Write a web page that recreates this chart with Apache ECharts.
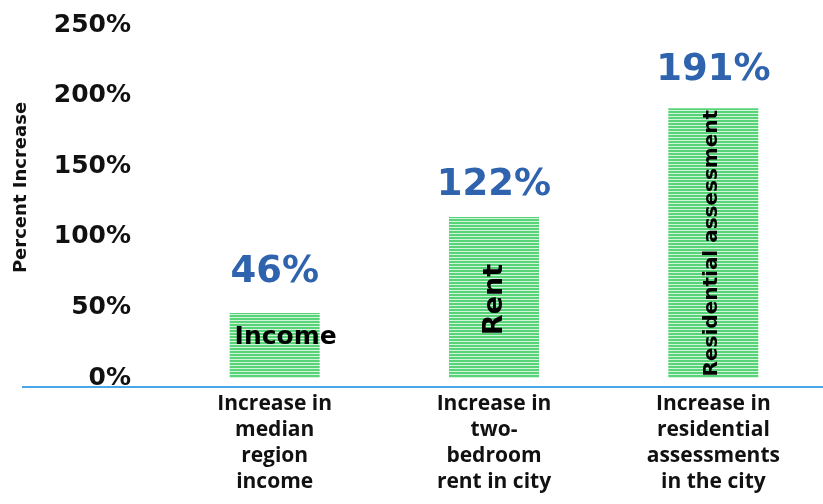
<!DOCTYPE html>
<html>
<head>
<meta charset="utf-8">
<script src="https://cdn.jsdelivr.net/npm/echarts@6/dist/echarts.min.js"></script>
<style>
html,body{margin:0;padding:0;background:#fff;}
#chart{width:823px;height:504px;}
</style>
</head>
<body>
<div id="chart"></div>
<script>
const categories = ['Increase in\nmedian\nregion\nincome', 'Increase in\ntwo-\nbedroom\nrent in city', 'Increase in\nresidential\nassessments\nin the city'];
const values = [46, 114, 191];
const valueLabels = ['46%', '122%', '191%'];
const barNames = ['Income', 'Rent', 'Residential assessment'];
const yAxisTitle = 'Percent Increase';

// style per bar (not data)
const valueLabelDistance = [22, 13, 19];
const innerLabelStyle = [
  {rotate: 0, fontSize: 25, offset: [11, -8]},
  {rotate: 90, fontSize: 27, offset: [-2, 1]},
  {rotate: 90, fontSize: 20, offset: [0, -2]}
];

function stripe() {
  const c = document.createElement('canvas');
  c.width = 4; c.height = 3;
  const ctx = c.getContext('2d');
  ctx.fillStyle = '#57d478';
  ctx.fillRect(0, 0, 4, 2);
  ctx.fillStyle = '#d2f4da';
  ctx.fillRect(0, 2, 4, 1);
  return c;
}
const pattern = {image: stripe(), repeat: 'repeat'};

const chart = echarts.init(document.getElementById('chart'));
chart.setOption({
  animation: false,
  grid: {left: 165, top: 25, right: 0, bottom: 126, containLabel: false},
  graphic: [{
    type: 'line', z: 10,
    shape: {x1: 22, y1: 387, x2: 823, y2: 387},
    style: {stroke: '#4aa6e8', lineWidth: 2}
  }],
  xAxis: {
    type: 'category',
    data: categories,
    axisLine: {show: false},
    axisTick: {show: false},
    axisLabel: {
      interval: 0, margin: 13,
      fontFamily: 'Open Sans', fontWeight: 'bold', fontSize: 21,
      lineHeight: 26, color: '#111'
    }
  },
  yAxis: {
    type: 'value', min: 0, max: 250, interval: 50,
    name: yAxisTitle, nameLocation: 'middle', nameRotate: 90, nameGap: 135,
    nameTextStyle: {fontFamily: 'DejaVu Sans', fontWeight: 'bold', fontSize: 18, color: '#111', padding: [0, 0, 0, 28]},
    axisLine: {show: false},
    axisTick: {show: false},
    splitLine: {show: false},
    axisLabel: {
      formatter: '{value}%', margin: 34,
      fontFamily: 'DejaVu Sans', fontWeight: 'bold', fontSize: 25, color: '#111'
    }
  },
  series: [
    {
      type: 'bar', barWidth: 90,
      data: values.map((v, i) => ({
        value: v,
        label: {distance: valueLabelDistance[i]}
      })),
      itemStyle: {color: pattern},
      label: {
        show: true, position: 'top',
        formatter: p => valueLabels[p.dataIndex],
        fontFamily: 'DejaVu Sans', fontWeight: 'bold', fontSize: 37, color: '#2f63ad'
      }
    },
    {
      type: 'bar', barWidth: 90, barGap: '-100%', z: 5,
      data: values.map((v, i) => ({
        value: v,
        label: innerLabelStyle[i]
      })),
      itemStyle: {color: 'rgba(0,0,0,0)'},
      label: {
        show: true, position: 'inside',
        formatter: p => barNames[p.dataIndex],
        fontFamily: 'DejaVu Sans', fontWeight: 'bold', color: '#000'
      }
    }
  ]
});
</script>
</body>
</html>
